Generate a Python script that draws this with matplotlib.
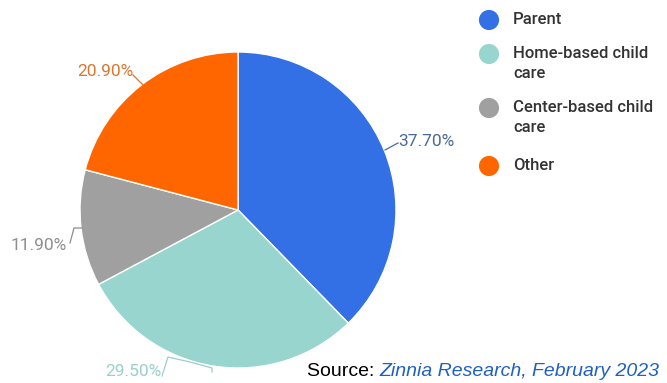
import matplotlib
matplotlib.use("Agg")
import matplotlib.pyplot as plt

categories = ['Parent', 'Home-based child care', 'Center-based child care', 'Other']
legend_labels = ['Parent', 'Home-based child\ncare', 'Center-based child\ncare', 'Other']
shares = [37.7, 29.5, 11.9, 20.9]
pct_labels = ['37.70%', '29.50%', '11.90%', '20.90%']
colors = ['#3370E6', '#98D5CF', '#A0A0A0', '#FF6600']
label_colors = ['#4A6A9E', '#9ACFCB', '#8E8E8E', '#D8772F']

W, H = 667, 383
fig = plt.figure(figsize=(W / 100, H / 100), dpi=100)
ax = fig.add_axes([0, 0, 1, 1])

# pie centre and radius in pixel units (y measured from the bottom)
cx, cy, r = 238, H - 210, 158
ax.pie(shares, colors=colors, startangle=90, counterclock=False,
       center=(cx, cy), radius=r, frame=True,
       wedgeprops=dict(edgecolor='white', linewidth=1))
ax.set_xlim(0, W)
ax.set_ylim(0, H)
ax.set_aspect('equal')
ax.axis('off')

# percentage labels with leader lines (pixel coords, y from top)
lab_pos = [(398, 141), (105, 372), (11, 245), (77, 71)]
leaders = [
    [(385, 150), (398, 143)],
    [(212, 372), (212, 368), (190, 362), (168, 357), (162, 376)],
    [(82, 228), (74, 228), (70, 243)],
    [(143, 85), (133, 75)],
]
for (x, y), txt, c, pts in zip(lab_pos, pct_labels, label_colors, leaders):
    ax.text(x, H - y, txt, color=c, fontsize=12.5, family='Roboto',
            ha='left', va='center')
    xs = [p[0] for p in pts]
    ys = [H - p[1] for p in pts]
    ax.plot(xs, ys, color=c, lw=0.9)

# legend
leg_y = [20, 54, 108, 166]
for y, lab, c in zip(leg_y, legend_labels, colors):
    ax.scatter([489], [H - y], s=210, color=c, edgecolors='none')
    ax.text(513, H - y + 8, lab, fontsize=12, family='Roboto', fontweight='medium',
            color='#333333', ha='left', va='top', linespacing=1.4)

# source line
src = ax.text(307, H - 372, 'Source: ', fontsize=14, family='Liberation Sans',
              color='black', ha='left', va='center')
fig.canvas.draw()
bb = src.get_window_extent()
ax.annotate('Zinnia Research, February 2023', xy=(bb.x1, H - 372), xycoords='data',
            fontsize=14, family='Liberation Sans', style='italic', color='#1F5FC4',
            ha='left', va='center', annotation_clip=False)

fig.savefig('out.png', dpi=100)
